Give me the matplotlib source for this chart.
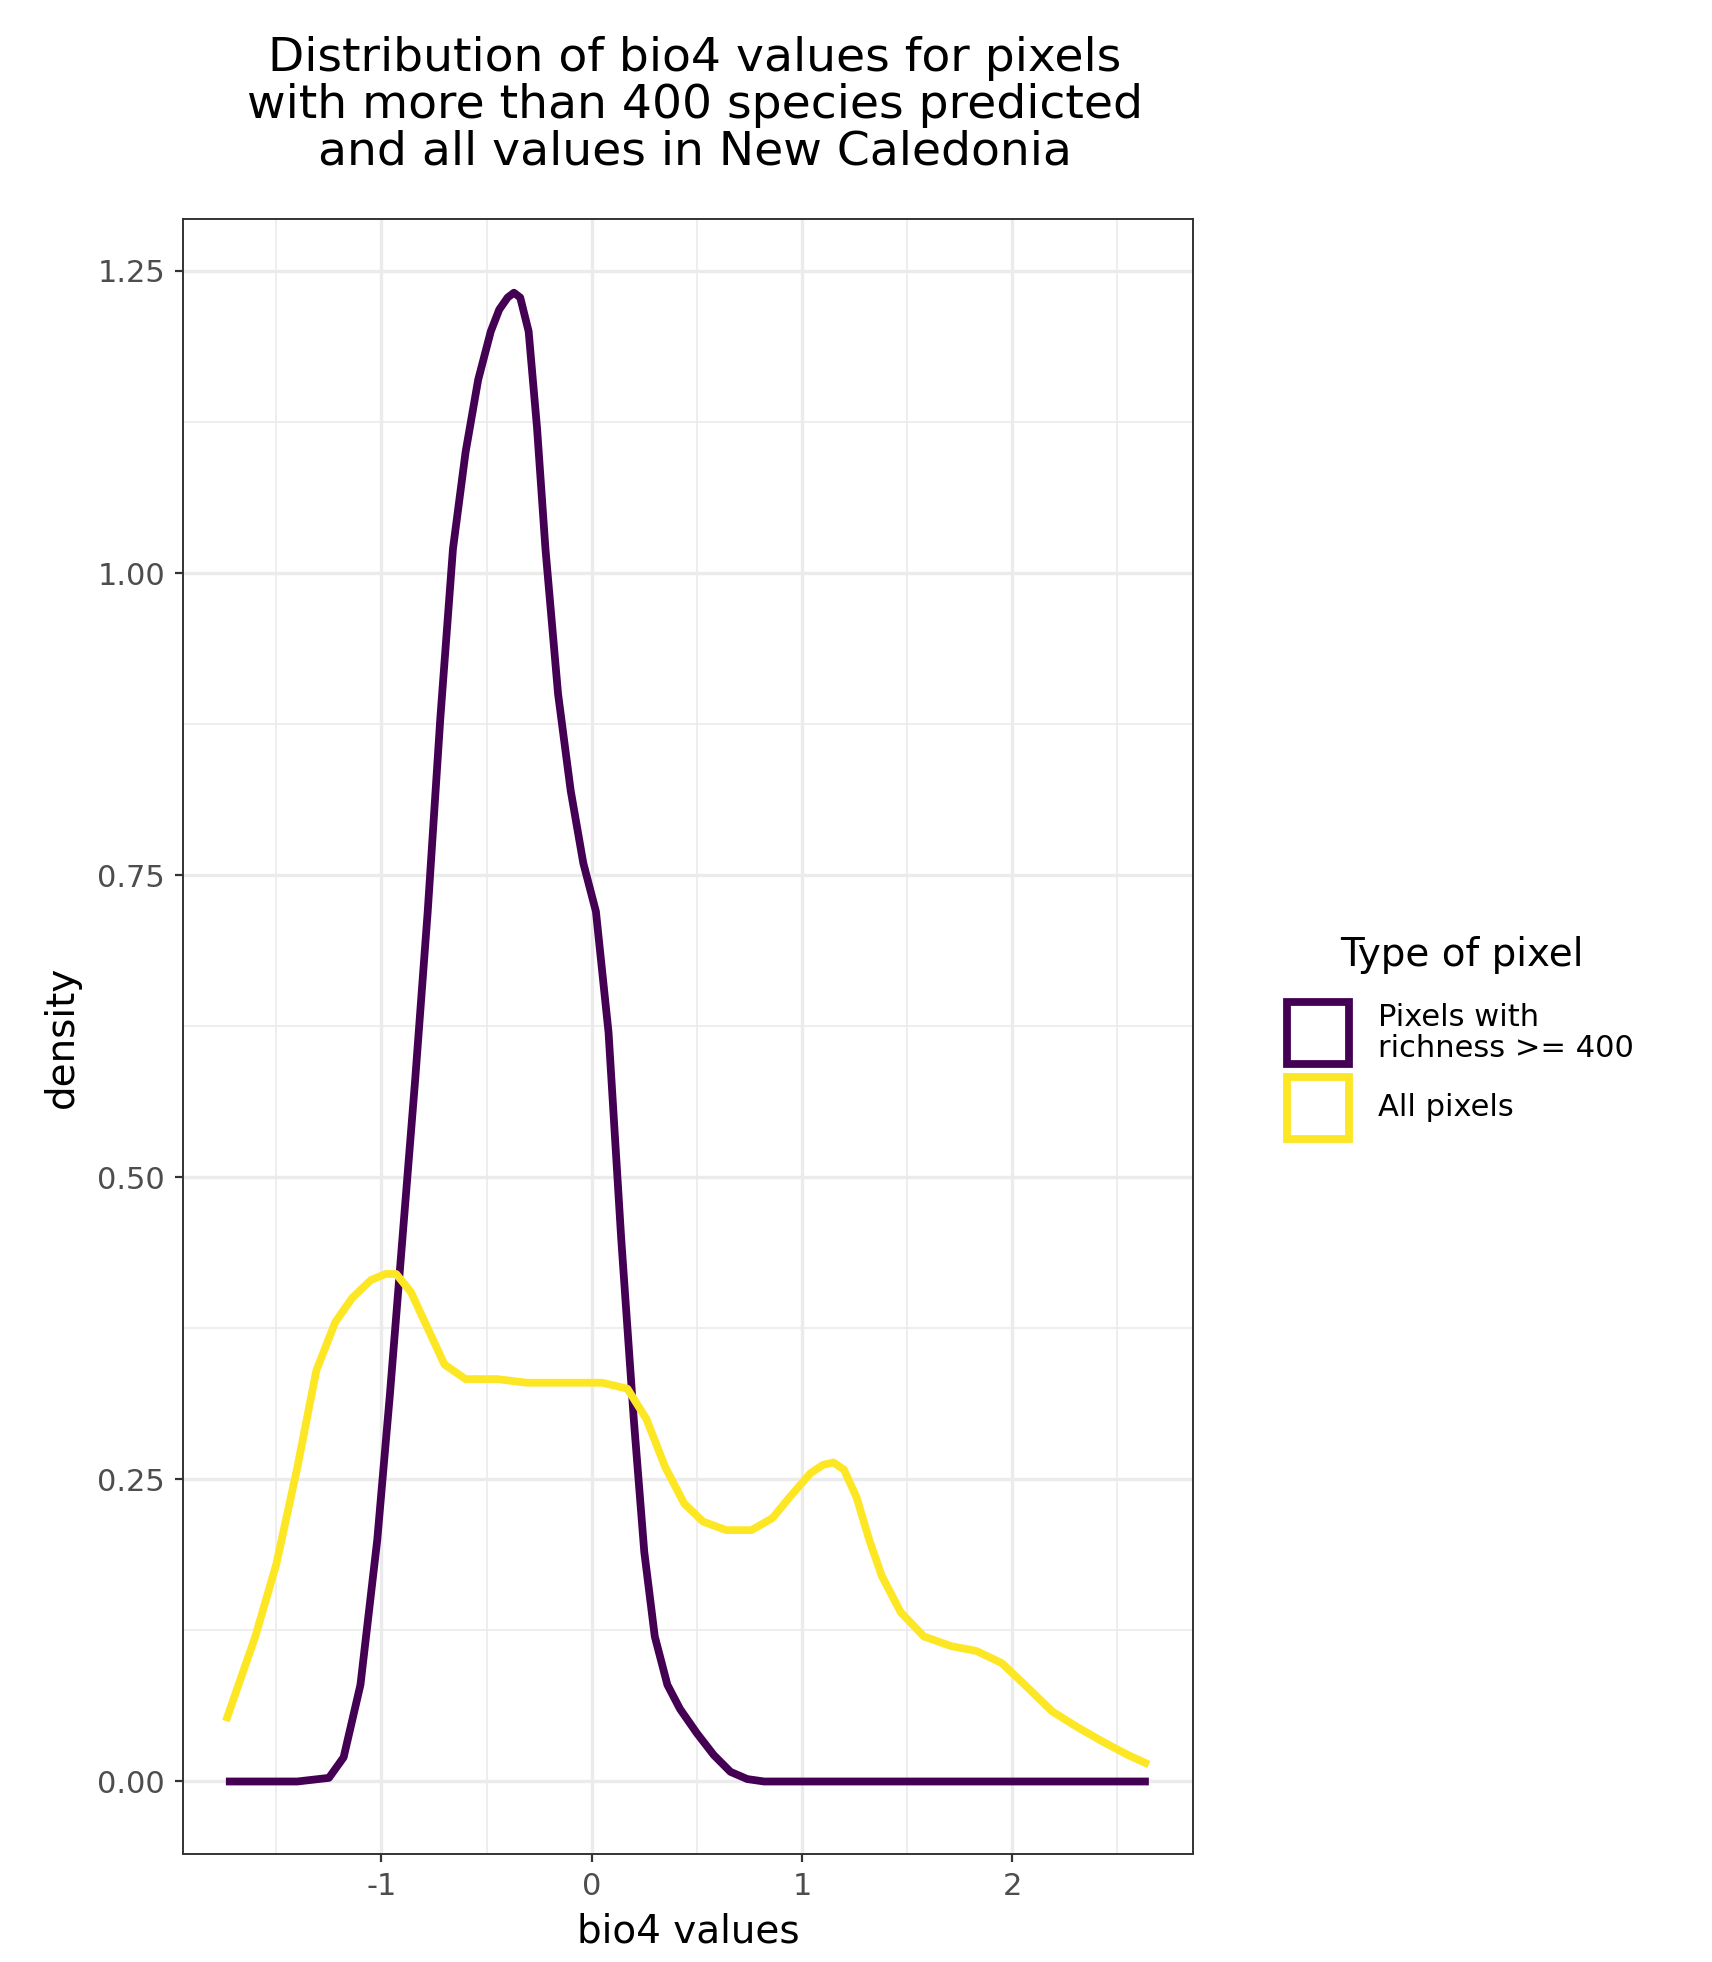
import matplotlib
matplotlib.use("Agg")
import matplotlib.pyplot as plt
from matplotlib.patches import Rectangle

rich_x = [-1.74, -1.4, -1.25, -1.18, -1.1, -1.02, -0.96, -0.9, -0.84, -0.78, -0.72, -0.66, -0.6, -0.54, -0.48, -0.44, -0.4, -0.37, -0.34, -0.3, -0.26, -0.22, -0.16, -0.1, -0.04, 0.02, 0.08, 0.14, 0.2, 0.25, 0.3, 0.36, 0.42, 0.5, 0.58, 0.66, 0.74, 0.82, 0.9, 1.2, 2.0, 2.65]
rich_y = [0.0, 0.0, 0.003, 0.02, 0.08, 0.2, 0.32, 0.45, 0.58, 0.72, 0.88, 1.02, 1.1, 1.16, 1.2, 1.218, 1.228, 1.232, 1.228, 1.2, 1.12, 1.02, 0.9, 0.82, 0.76, 0.72, 0.62, 0.45, 0.3, 0.19, 0.12, 0.08, 0.06, 0.04, 0.022, 0.008, 0.002, 0.0, 0.0, 0.0, 0.0, 0.0]

all_x = [-1.74, -1.6, -1.5, -1.4, -1.31, -1.22, -1.14, -1.05, -0.98, -0.93, -0.86, -0.78, -0.7, -0.6, -0.45, -0.31, -0.18, -0.07, 0.05, 0.17, 0.26, 0.35, 0.44, 0.53, 0.64, 0.76, 0.86, 0.94, 1.04, 1.1, 1.15, 1.2, 1.26, 1.32, 1.38, 1.47, 1.58, 1.71, 1.83, 1.95, 2.06, 2.19, 2.31, 2.43, 2.55, 2.65]
all_y = [0.05, 0.12, 0.18, 0.26, 0.34, 0.38, 0.40, 0.415, 0.42, 0.42, 0.405, 0.375, 0.345, 0.333, 0.333, 0.33, 0.33, 0.33, 0.33, 0.325, 0.3, 0.26, 0.23, 0.215, 0.208, 0.208, 0.218, 0.235, 0.255, 0.262, 0.264, 0.258, 0.235, 0.2, 0.17, 0.14, 0.12, 0.112, 0.108, 0.098, 0.08, 0.058, 0.045, 0.033, 0.022, 0.014]

x_ticks = [-1, 0, 1, 2]
y_ticks = [0.0, 0.25, 0.5, 0.75, 1.0, 1.25]
purple = "#440154"
yellow = "#FDE725"

fig = plt.figure(figsize=(8.56, 9.81), dpi=200)
ax = fig.add_axes([183/1712, 1-1854/1962, (1193-183)/1712, (1854-219)/1962])
ax.set_xlim(-1.944, 2.86)
ax.set_ylim(-0.06, 1.293)
for xm in [-1.5, -0.5, 0.5, 1.5, 2.5]:
    ax.axvline(xm, color="#ebebeb", lw=0.6, zorder=0)
for ym in [0.125, 0.375, 0.625, 0.875, 1.125]:
    ax.axhline(ym, color="#ebebeb", lw=0.6, zorder=0)
for xm in x_ticks:
    ax.axvline(xm, color="#ebebeb", lw=1.2, zorder=0)
for ym in y_ticks:
    ax.axhline(ym, color="#ebebeb", lw=1.2, zorder=0)
ax.plot(rich_x, rich_y, color=purple, lw=2.8, solid_joinstyle="round", solid_capstyle="butt")
ax.plot(all_x, all_y, color=yellow, lw=2.8, solid_joinstyle="round", solid_capstyle="butt")
ax.set_xticks(x_ticks)
ax.set_xticklabels(["-1", "0", "1", "2"])
ax.set_yticks(y_ticks)
ax.set_yticklabels(["0.00", "0.25", "0.50", "0.75", "1.00", "1.25"])
ax.tick_params(labelsize=11, colors="#333333", labelcolor="#4d4d4d", length=3)
for s in ax.spines.values():
    s.set_color("#333333"); s.set_linewidth(0.7)
ax.set_xlabel("bio4 values", fontsize=14, labelpad=4)
ax.set_ylabel("density", fontsize=14, labelpad=6)
fig.text(695/1712, 1-105/1962, "Distribution of bio4 values for pixels\nwith more than 400 species predicted\nand all values in New Caledonia",
         fontsize=17, ha="center", va="center", linespacing=1.05)

fig.text(1340/1712, 1-955/1962, "Type of pixel", fontsize=14, ha="left", va="center")
for i, (col, lab) in enumerate([(purple, "Pixels with\nrichness >= 400"), (yellow, "All pixels")]):
    yc = [1033, 1108][i]
    r = Rectangle((1287/1712, 1-(yc+31)/1962), 62/1712, 62/1962, transform=fig.transFigure,
                  fill=False, edgecolor=col, lw=2.8)
    fig.add_artist(r)
    fig.text(1378/1712, 1-yc/1962, lab, fontsize=11, ha="left", va="center", linespacing=1.05)

fig.savefig("out.png", dpi=200, facecolor="white")
